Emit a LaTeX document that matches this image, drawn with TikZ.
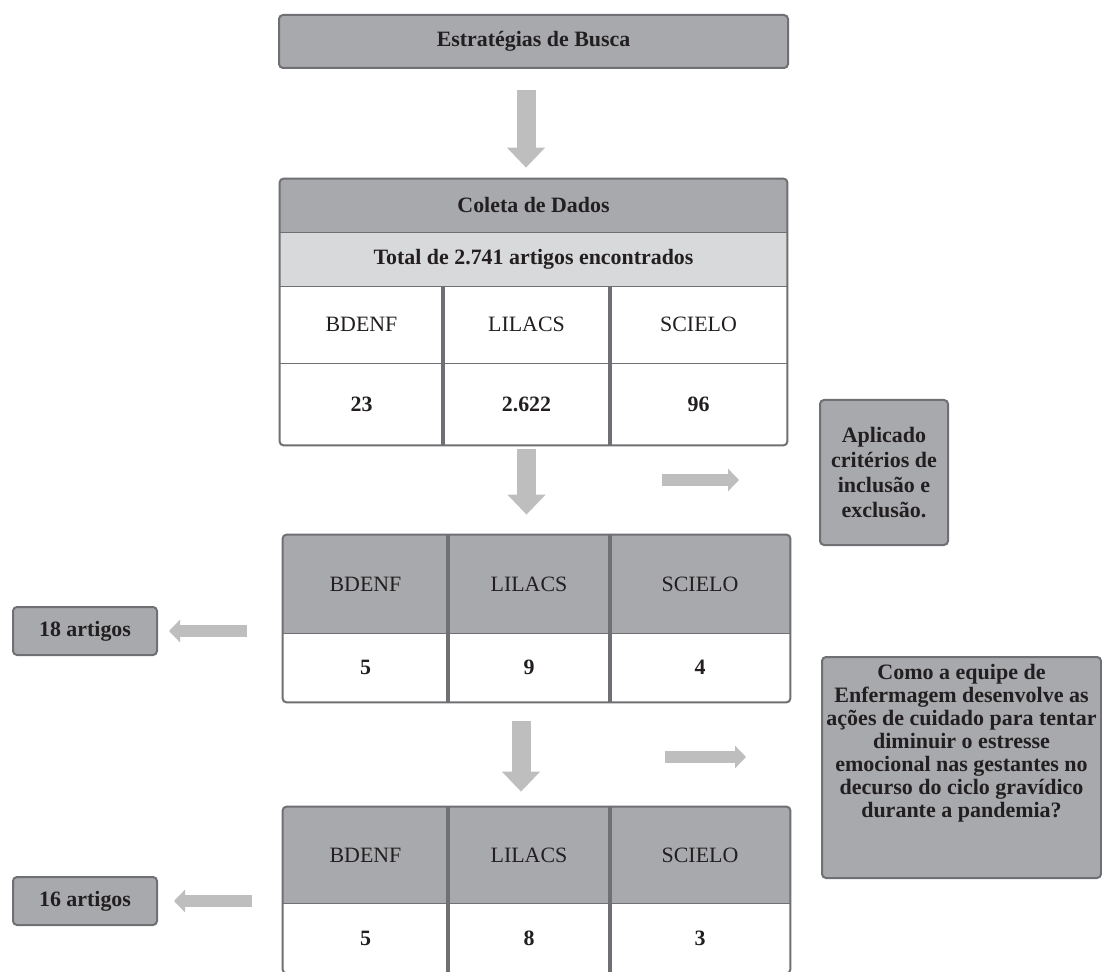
\documentclass[tikz,border=0pt,11pt]{standalone}
\usepackage{fontspec}
\setmainfont{Liberation Serif}
\usetikzlibrary{arrows.meta}
\definecolor{BoxGray}{HTML}{A7A9AC}
\definecolor{BoxLine}{HTML}{6F7073}
\definecolor{RowGray}{HTML}{D8D9DA}
\definecolor{ArrowGray}{HTML}{BEBEBE}
\definecolor{TextDark}{HTML}{231F20}

\begin{document}
\begin{tikzpicture}[x=0.5pt,y=-0.5pt,
  every node/.style={text=TextDark},
  graybox/.style={draw=BoxLine, fill=BoxGray, line width=1pt, rounded corners=2pt, inner sep=0pt, align=center, font=\bfseries},
  cell/.style={inner sep=0pt, align=center},
  tabframe/.style={draw=BoxLine, line width=1pt, rounded corners=2pt},
  rowline/.style={draw=BoxLine, line width=0.8pt},
  divider/.style={draw=BoxLine, line width=2pt},
  downarrow/.style={draw=ArrowGray, line width=9.5pt, -{Triangle[width=18.5pt,length=10pt]}},
  sidearrow/.style={draw=ArrowGray, line width=6pt, -{Triangle[width=11pt,length=5.5pt]}}]
\path[use as bounding box, fill=white] (0,0) rectangle (1102,972);

\node[graybox, minimum width=254.5pt, minimum height=26.5pt] (busca) at (533.5,41.5) {Estratégias de Busca};

% coleta de dados
\node[cell, fill=BoxGray, minimum width=253.5pt, minimum height=26.5pt, font=\bfseries] (coleta) at (533.5,205.5) {Coleta de Dados};
\node[cell, fill=RowGray, minimum width=253.5pt, minimum height=27pt, font=\bfseries] (total) at (533.5,259) {Total de 2.741 artigos encontrados};
\foreach \c/\cx/\w/\lab/\val in {a/361.5/81.5/BDENF/23, b/526.5/83.5/LILACS/2.622, c/698.5/88.5/SCIELO/96}{
  \node[cell, fill=white, minimum width=\w pt, minimum height=38.5pt] (col\c) at (\cx,324.5) {\lab};
  \node[cell, fill=white, minimum width=\w pt, minimum height=41pt, font=\bfseries] (num\c) at (\cx,404) {\val};
}
\draw[tabframe] (coleta.north west) rectangle (numc.south east);
\draw[rowline] (coleta.south west) -- (coleta.south east);
\draw[rowline] (total.south west) -- (total.south east);
\draw[rowline] (cola.south west) -- (colc.south east);
\draw[divider] (cola.north east) -- (numa.south east);
\draw[divider] (colb.north east) -- (numb.south east);

% primeira selecao
\foreach \c/\cx/\w/\lab/\val in {a/365.5/82.5/BDENF/5, b/529/81/LILACS/9, c/700/90/SCIELO/4}{
  \node[cell, fill=BoxGray, minimum width=\w pt, minimum height=49pt] (fase1\c) at (\cx,584) {\lab};
  \node[cell, fill=white, minimum width=\w pt, minimum height=34.5pt, font=\bfseries] (qtd1\c) at (\cx,667.5) {\val};
}
\draw[tabframe] (fase1a.north west) rectangle (qtd1c.south east);
\draw[rowline] (fase1a.south west) -- (fase1c.south east);
\draw[divider] (fase1a.north east) -- (qtd1a.south east);
\draw[divider] (fase1b.north east) -- (qtd1b.south east);

% segunda selecao
\foreach \c/\cx/\w/\lab/\val in {a/365.5/82.5/BDENF/5, b/529/81/LILACS/8, c/700/90/SCIELO/3}{
  \node[cell, fill=BoxGray, minimum width=\w pt, minimum height=48pt] (fase2\c) at (\cx,855) {\lab};
  \node[cell, fill=white, minimum width=\w pt, minimum height=35pt, font=\bfseries] (qtd2\c) at (\cx,938) {\val};
}
\draw[tabframe] (fase2a.north west) rectangle (qtd2c.south east);
\draw[rowline] (fase2a.south west) -- (fase2c.south east);
\draw[divider] (fase2a.north east) -- (qtd2a.south east);
\draw[divider] (fase2b.north east) -- (qtd2b.south east);

\node[graybox, minimum width=72pt, minimum height=24pt] (art18) at (85,631) {18 artigos};
\node[graybox, minimum width=72pt, minimum height=24pt] (art16) at (85,901) {16 artigos};
\node[graybox, minimum width=64pt, minimum height=72.5pt, font=\bfseries\fontsize{11}{12.5}\selectfont] (criterios) at (884,472.5) {Aplicado\\critérios de\\inclusão e\\exclusão.};
\node[graybox, minimum width=139.5pt, minimum height=110.5pt] (pergunta) at (961.5,767.5) {};
\node[cell, anchor=north, font=\bfseries\fontsize{11}{11.5}\selectfont] (perguntatxt) at ([yshift=-4pt]pergunta.north) {Como a equipe de\\Enfermagem desenvolve as\\ações de cuidado para tentar\\diminuir o estresse\\emocional nas gestantes no\\decurso do ciclo gravídico\\durante a pandemia?};

\draw[downarrow, shorten <=10.5pt, shorten >=5.5pt] ([xshift=-3.75pt]busca.south) -- ([xshift=-3.75pt]coleta.north);
\draw[downarrow, shorten <=2pt, shorten >=10pt] (numb.south) -- (numb.south |- fase1b.north);
\draw[downarrow, shorten <=9.5pt, shorten >=7.5pt] ([xshift=-4pt]qtd1b.south) -- ([xshift=-4pt]qtd1b.south |- fase2b.north);
\coordinate (saida1) at (662,480);
\coordinate (saida2) at (665,757);
\draw[sidearrow, shorten >=40pt] (saida1) -- (saida1 -| criterios.west);
\draw[sidearrow, shorten >=37.5pt] (saida2) -- (saida2 -| pergunta.west);
\draw[sidearrow, shorten <=18pt, shorten >=5.5pt] (art18.east -| fase1a.west) -- (art18.east);
\draw[sidearrow, shorten <=15.5pt, shorten >=8pt] (art16.east -| fase2a.west) -- (art16.east);
\end{tikzpicture}
\end{document}
